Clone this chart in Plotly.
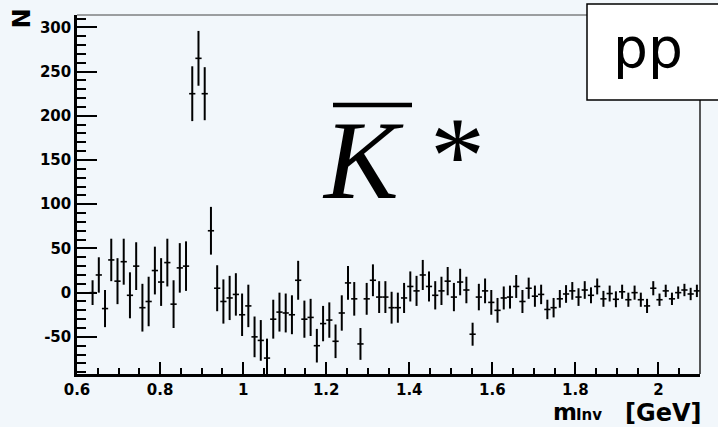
import plotly.graph_objects as go

# Histogram definition: 100 bins from 0.6 to 2.1 GeV (first two bins empty)
bin_lo = 0.6
bin_width = 0.015
first_bin = 2

counts = [0, 20, -18, 37, 13, 35, -3, 30, -17, -10, 25, 12, 34, -13, 28, 30,
          225, 265, 225, 70,
          5, -10, -6, -2, -25, -15, -50, -54, -74, -30, -22, -23, -25, 14, -30, -28,
          -60, -35, -31, -55, -23, 11, -7, -58,
          -7, 14, -5, -5, -17, -17, -6, 7, 2, 20, 7, -3, 2, 13, -5,
          12, 3, -47, -5, 2, -11, -20, -6, -5, 7, -10, 5,
          -4, -2, -19, -17, -7, -1.5, 2, -5, 3, -3, 7, -7, -1,
          -7.5, 1, -8, 0, -8, -15, 5, -8, 2, -7, 0, 3, -1.5, 2]

errors = [14, 20, 21, 24, 26, 26, 26, 27, 27, 28, 27, 27, 27, 27, 28, 28,
          31, 31, 30, 27,
          26, 25, 25, 24, 24, 24, 23, 23, 22, 22, 22, 22, 22, 22, 21, 21, 19, 20, 20, 19, 20, 19, 19, 18,
          18, 18, 18, 18, 18, 17, 17, 17, 17, 17, 17, 16, 16, 16, 16,
          15, 15, 13, 15, 14, 14, 14, 13, 13, 13, 13, 12,
          12, 11, 11, 11, 10, 10, 10, 10, 10, 9, 9, 9, 9,
          9, 8, 8, 8, 8, 8, 8, 7, 7, 7, 7, 7, 7, 7]

y_tick_vals = [-50, 0, 50, 100, 150, 200, 250, 300]
y_tick_text = ["-50", "0", "50", "100", "150", "200", "250", "300"]
x_tick_vals = [0.6, 0.8, 1.0, 1.2, 1.4, 1.6, 1.8, 2.0]
x_tick_text = ["0.6", "0.8", "1", "1.2", "1.4", "1.6", "1.8", "2"]

centers = [bin_lo + (first_bin + k + 0.5) * bin_width for k in range(len(counts))]
half_widths = [bin_width / 2] * len(counts)

x_range = [0.6, 2.1]
y_range = [-92, 314]

W, H = 718, 427
L, R, T, B = 77, 700, 15, 374


def px(p):
    return (p - L) / (R - L)


def py(p):
    return (B - p) / (B - T)


bg = "#f2f7fb"

fig = go.Figure()
fig.add_trace(go.Scatter(
    x=centers, y=counts, mode="markers",
    marker=dict(size=0.1, color="black"),
    error_y=dict(type="data", array=errors, symmetric=True, width=0,
                 thickness=2, color="black"),
    error_x=dict(type="data", array=half_widths, symmetric=True, width=0,
                 thickness=1.6, color="black"),
    showlegend=False, hoverinfo="skip",
))

tickfont = dict(family="DejaVu Sans", size=15, color="black", weight="bold")

fig.update_layout(
    width=W, height=H,
    margin=dict(l=L, r=W - R, t=T, b=H - B),
    paper_bgcolor=bg, plot_bgcolor=bg,
    xaxis=dict(range=x_range, showgrid=False, zeroline=False,
               showline=True, linecolor="black", linewidth=2.5,
               ticks="inside", ticklen=12, tickwidth=2.2, tickcolor="black",
               tickmode="array", tickvals=x_tick_vals, ticktext=x_tick_text,
               tickfont=tickfont,
               minor=dict(tick0=0.6, dtick=0.05, ticklen=6, tickwidth=2.2,
                          tickcolor="black", ticks="inside")),
    yaxis=dict(range=y_range, showgrid=False, zeroline=False,
               showline=True, linecolor="black", linewidth=2.5,
               ticks="inside", ticklen=20, tickwidth=2.2, tickcolor="black",
               tickmode="array", tickvals=y_tick_vals, ticktext=y_tick_text,
               tickfont=tickfont,
               minor=dict(tick0=0, dtick=10, ticklen=9, tickwidth=2.2,
                          tickcolor="black", ticks="inside")),
)

shapes = [
    # top frame line (thin)
    dict(type="line", xref="paper", yref="paper", x0=0, x1=1, y0=1, y1=1,
         line=dict(color="#444444", width=1)),
    # right frame line
    dict(type="line", xref="paper", yref="paper", x0=1, x1=1, y0=0, y1=1,
         line=dict(color="#222222", width=1.5)),
    # "pp" box
    dict(type="rect", xref="paper", yref="paper",
         x0=px(587), x1=px(722), y0=py(100), y1=py(4),
         line=dict(color="black", width=1.5), fillcolor="white"),
    # overline of K
    dict(type="line", xref="paper", yref="paper",
         x0=px(333), x1=px(412), y0=py(105), y1=py(105),
         line=dict(color="black", width=4.5)),
]
fig.update_layout(shapes=shapes)

bold = dict(family="DejaVu Sans", color="black", weight="bold")
annotations = [
    dict(text="N", x=px(22), y=py(18.5), xref="paper", yref="paper",
         showarrow=False, textangle=-90, xanchor="center", yanchor="middle",
         font=dict(size=24, **bold)),
    dict(text="m", x=px(551), y=py(412), xref="paper", yref="paper",
         showarrow=False, xanchor="left", yanchor="middle",
         font=dict(size=23, **bold)),
    dict(text="Inv", x=px(574), y=py(415), xref="paper", yref="paper",
         showarrow=False, xanchor="left", yanchor="middle",
         font=dict(size=15, **bold)),
    dict(text="[GeV]", x=px(704), y=py(413), xref="paper", yref="paper",
         showarrow=False, xanchor="right", yanchor="middle",
         font=dict(size=24, **bold)),
    dict(text="<i>K</i>", x=px(363), y=py(160), xref="paper", yref="paper",
         showarrow=False, xanchor="center", yanchor="middle",
         font=dict(family="Liberation Serif", size=112, color="black")),
    dict(text="*", x=px(457), y=py(156), xref="paper", yref="paper",
         showarrow=False, xanchor="center", yanchor="middle",
         font=dict(family="Liberation Serif", size=110, color="black")),
    dict(text="pp", x=px(648), y=py(48), xref="paper", yref="paper",
         showarrow=False, xanchor="center", yanchor="middle",
         font=dict(family="DejaVu Sans", size=55, color="black")),
]
fig.update_layout(annotations=annotations)

fig.write_html("out.html")
